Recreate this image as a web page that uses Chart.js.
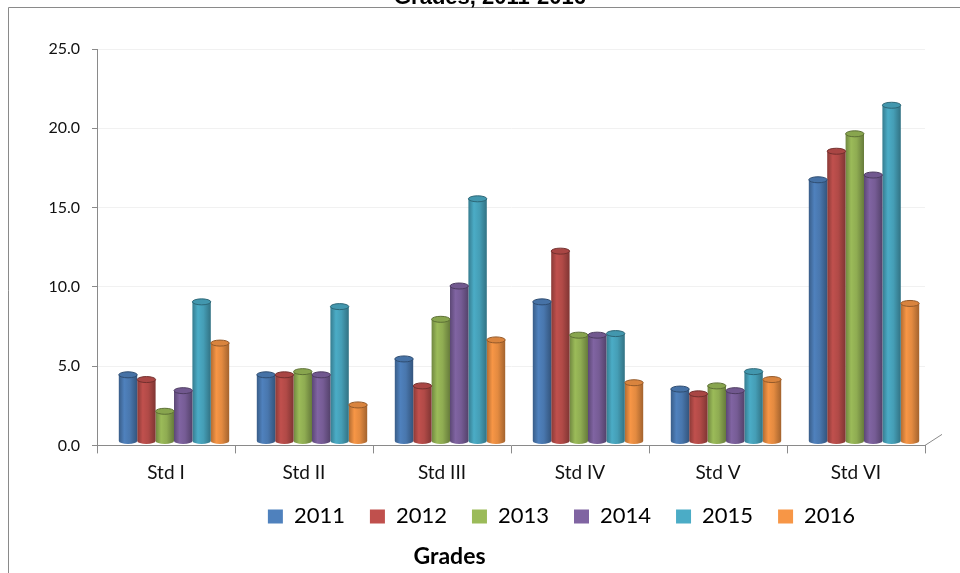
<!DOCTYPE html>
<html>
<head>
<meta charset="utf-8">
<script src="https://cdn.jsdelivr.net/npm/chart.js@4.4.1/dist/chart.umd.min.js"></script>
<style>
  html, body { margin: 0; padding: 0; background: #fff; }
  #wrap { width: 960px; height: 573px; }
</style>
</head>
<body>
<div id="wrap"><canvas id="myChart" width="960" height="573"></canvas></div>
<script>
const categories = ["Std I", "Std II", "Std III", "Std IV", "Std V", "Std VI"];
const years = ["2011", "2012", "2013", "2014", "2015", "2016"];
const yTicks = [0, 5, 10, 15, 20, 25];

const s2011 = [4.2, 4.2, 5.2, 8.8, 3.3, 16.5];
const s2012 = [3.9, 4.2, 3.5, 12.0, 3.0, 18.3];
const s2013 = [1.9, 4.4, 7.7, 6.7, 3.5, 19.4];
const s2014 = [3.2, 4.2, 9.8, 6.7, 3.2, 16.8];
const s2015 = [8.8, 8.5, 15.3, 6.8, 4.4, 21.2];
const s2016 = [6.2, 2.3, 6.4, 3.7, 3.9, 8.7];

const series = [s2011, s2012, s2013, s2014, s2015, s2016];
const colors = ["#4F81BD", "#C0504D", "#9BBB59", "#8064A2", "#4BACC6", "#F79646"];

Chart.defaults.font.family = 'Lato, "Open Sans", sans-serif';
Chart.defaults.color = "#111";

function shade(hex, f) {
  let n = parseInt(hex.slice(1), 16);
  let r = Math.min(255, Math.round(((n >> 16) & 255) * f));
  let g = Math.min(255, Math.round(((n >> 8) & 255) * f));
  let b = Math.min(255, Math.round((n & 255) * f));
  return `rgb(${r},${g},${b})`;
}

function cylGrad(ctx, x0, w, hex) {
  let g = ctx.createLinearGradient(x0, 0, x0 + w, 0);
  g.addColorStop(0, shade(hex, 0.72));
  g.addColorStop(0.3, shade(hex, 1.0));
  g.addColorStop(0.6, shade(hex, 0.92));
  g.addColorStop(1, shade(hex, 0.66));
  return g;
}

// bars drawn as cylinders, shifted a little like the 3D original
const cylinders = {
  id: "cylinders",
  beforeDatasetsDraw(chart) {
    let ctx = chart.ctx;
    ctx.save();
    ctx.translate(8, -4);
    chart.data.datasets.forEach((ds, di) => {
      chart.getDatasetMeta(di).data.forEach((bar) => {
        bar.options.backgroundColor = cylGrad(ctx, bar.x - bar.width / 2, bar.width, colors[di]);
      });
    });
  },
  afterDatasetsDraw(chart) {
    let ctx = chart.ctx;
    chart.data.datasets.forEach((ds, di) => {
      chart.getDatasetMeta(di).data.forEach((bar) => {
        let rx = bar.width / 2;
        let ry = 3;
        ctx.beginPath();
        ctx.ellipse(bar.x, bar.base, rx, ry, 0, 0, Math.PI);
        ctx.fillStyle = cylGrad(ctx, bar.x - rx, bar.width, colors[di]);
        ctx.fill();
        ctx.beginPath();
        ctx.ellipse(bar.x, bar.y, rx, ry, 0, 0, Math.PI * 2);
        ctx.fillStyle = shade(colors[di], 0.88);
        ctx.fill();
        ctx.strokeStyle = shade(colors[di], 0.6);
        ctx.lineWidth = 1;
        ctx.stroke();
      });
    });
    ctx.restore();
  },
};

const frame = {
  id: "frame",
  afterLayout(chart) {
    chart.legend.left += 99;
    chart.legend.right += 99;
    chart.titleBlock.left -= 13;
    chart.titleBlock.right -= 13;
  },
  afterDraw(chart) {
    let ctx = chart.ctx;
    let a = chart.chartArea;
    ctx.save();
    ctx.strokeStyle = "#8a8a8a";
    ctx.lineWidth = 1;
    ctx.beginPath();
    ctx.moveTo(8.5, 573);
    ctx.lineTo(8.5, 7.5);
    ctx.lineTo(960, 7.5);
    ctx.stroke();
    ctx.beginPath();
    ctx.moveTo(a.right, a.bottom);
    ctx.lineTo(a.right + 17, a.bottom - 11);
    ctx.stroke();
    ctx.fillStyle = "#000";
    ctx.font = 'bold 22px "Liberation Sans", Arial, sans-serif';
    ctx.textAlign = "center";
    ctx.textBaseline = "alphabetic";
    ctx.fillText("Grades, 2011-2016", 490, 4);
    ctx.restore();
  },
};

let ctx = document.getElementById("myChart").getContext("2d");

let myChart = new Chart(ctx, {
  type: "bar",
  data: {
    labels: categories,
    datasets: years.map((y, i) => ({
      label: y,
      data: series[i],
      backgroundColor: (c) => colors[c.datasetIndex],
      borderWidth: 0,
      categoryPercentage: 0.8,
      barPercentage: 1.0,
    })),
  },
  options: {
    responsive: false,
    animation: false,
    events: [],
    layout: { padding: { top: 49, right: 35, bottom: 0, left: 0 } },
    scales: {
      x: {
        grid: { drawOnChartArea: false, tickLength: 8, tickColor: "#8a8a8a" },
        border: { color: "#8a8a8a" },
        ticks: { font: { size: 19 }, padding: 8, color: "#111" },
        afterFit(scale) {
          scale.height = 35;
        },
      },
      y: {
        min: 0,
        max: 25,
        afterBuildTicks(scale) {
          scale.ticks = yTicks.map((v) => ({ value: v }));
        },
        grid: { color: "#f1f1f1", tickLength: 5, tickColor: "#8a8a8a" },
        border: { color: "#8a8a8a" },
        ticks: {
          font: { size: 16 },
          padding: 12,
          color: "#111",
          callback: (v) => Number(v).toFixed(1),
        },
        afterFit(scale) {
          scale.width = 97;
        },
      },
    },
    plugins: {
      legend: {
        position: "bottom",
        labels: {
          boxWidth: 15,
          boxHeight: 14,
          padding: 25,
          color: "#000",
          font: { size: 22 },
        },
      },
      title: {
        display: true,
        position: "bottom",
        text: "Grades",
        color: "#000",
        font: { size: 23, weight: "bold" },
        padding: { top: 5, bottom: 3 },
      },
      tooltip: { enabled: false },
    },
  },
  plugins: [cylinders, frame],
});
</script>
</body>
</html>
